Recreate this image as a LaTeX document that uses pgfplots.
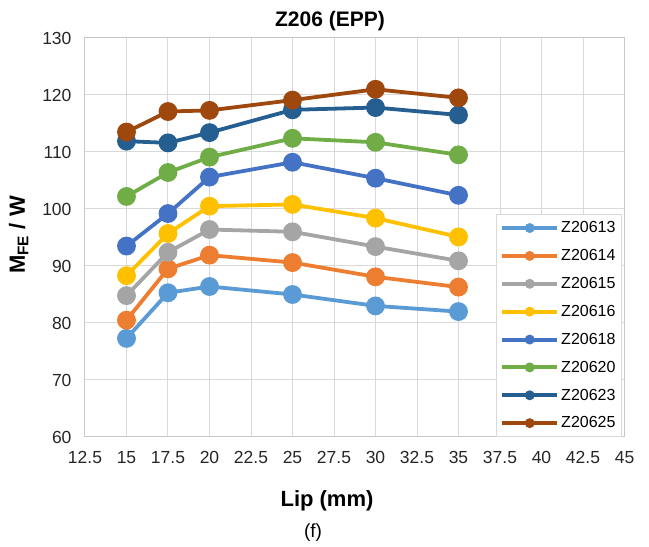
\documentclass[border=0pt]{standalone}
\usepackage{pgfplots}
\pgfplotsset{compat=1.18}
\usepackage{fontspec}
\setmainfont{Liberation Sans}
\definecolor{c1}{HTML}{5B9BD5}
\definecolor{c2}{HTML}{ED7D31}
\definecolor{c3}{HTML}{A5A5A5}
\definecolor{c4}{HTML}{FFC000}
\definecolor{c5}{HTML}{4472C4}
\definecolor{c6}{HTML}{70AD47}
\definecolor{c7}{HTML}{255E91}
\definecolor{c8}{HTML}{9E480E}
\definecolor{gridc}{HTML}{D9D9D9}
\definecolor{axc}{HTML}{C8C8C8}
\begin{document}
\begin{tikzpicture}
\begin{axis}[
  scale only axis, width=539.5pt, height=399pt,
  xmin=12.5, xmax=45, ymin=60, ymax=130,
  xtick={12.5,15,...,45}, ytick={60,70,...,130},
  xticklabels={12.5,15,17.5,20,22.5,25,27.5,30,32.5,35,37.5,40,42.5,45},
  /pgf/number format/assume math mode=true,
  grid=major, major grid style={gridc, line width=1pt},
  axis line style={axc, line width=1pt},
  tick style={draw=none},
  tick label style={font=\fontsize{17.5}{19}\selectfont, text=black!85},
  xticklabel style={yshift=-11pt},
  yticklabel style={xshift=-10pt},
  legend style={at={(rel axis cs:1,0)}, anchor=south east, xshift=-2.5pt, draw=gridc, line width=1pt,
    font=\fontsize{16}{18}\selectfont, row sep=11.2pt, inner xsep=4pt, inner ysep=5pt, fill=white},
  legend cell align=left,
  legend image code/.code={
    \draw[#1, line width=4pt] (0pt,0pt) -- (55pt,0pt);
    \fill[#1, draw=none] (27.5pt,0pt) circle (5pt);
  },
  every axis plot/.append style={line width=3.8pt, mark=*, mark size=7.5pt},
]
\addplot[c1, mark options={fill=c1, draw=c1}] coordinates {(15,77.3)(17.5,85.3)(20,86.4)(25,85.0)(30,83.0)(35,82.0)};
\addlegendentry{Z20613}
\addplot[c2, mark options={fill=c2, draw=c2}] coordinates {(15,80.5)(17.5,89.5)(20,91.9)(25,90.6)(30,88.1)(35,86.3)};
\addlegendentry{Z20614}
\addplot[c3, mark options={fill=c3, draw=c3}] coordinates {(15,84.8)(17.5,92.4)(20,96.4)(25,96.0)(30,93.4)(35,90.9)};
\addlegendentry{Z20615}
\addplot[c4, mark options={fill=c4, draw=c4}] coordinates {(15,88.3)(17.5,95.7)(20,100.5)(25,100.8)(30,98.4)(35,95.1)};
\addlegendentry{Z20616}
\addplot[c5, mark options={fill=c5, draw=c5}] coordinates {(15,93.5)(17.5,99.2)(20,105.6)(25,108.2)(30,105.4)(35,102.4)};
\addlegendentry{Z20618}
\addplot[c6, mark options={fill=c6, draw=c6}] coordinates {(15,102.2)(17.5,106.4)(20,109.1)(25,112.4)(30,111.7)(35,109.5)};
\addlegendentry{Z20620}
\addplot[c7, mark options={fill=c7, draw=c7}] coordinates {(15,111.9)(17.5,111.6)(20,113.4)(25,117.4)(30,117.8)(35,116.5)};
\addlegendentry{Z20623}
\addplot[c8, mark options={fill=c8, draw=c8}] coordinates {(15,113.5)(17.5,117.1)(20,117.3)(25,119.1)(30,121.0)(35,119.5)};
\addlegendentry{Z20625}
\coordinate (BL) at (rel axis cs:0,0);
\coordinate (TR) at (rel axis cs:1,1);
\end{axis}
\pgfresetboundingbox
\path[use as bounding box] ([shift={(-85pt,-110pt)}]BL) rectangle ([shift={(24.5pt,38pt)}]TR);
\node[anchor=base, font=\fontsize{21}{23}\selectfont\bfseries, inner sep=0pt] at ([shift={(245pt,410pt)}]BL) {Z206 (EPP)};
\node[anchor=base, font=\fontsize{22}{24}\selectfont\bfseries, inner sep=0pt] at ([shift={(242pt,-70pt)}]BL) {Lip (mm)};
\node[anchor=base, font=\fontsize{19}{21}\selectfont, inner sep=0pt] at ([shift={(228pt,-101pt)}]BL) {(f)};
\node[anchor=base, rotate=90, font=\fontsize{22}{24}\selectfont\bfseries, inner sep=0pt] at ([shift={(-60pt,202pt)}]BL) {M\textsubscript{FE} / W};
\end{tikzpicture}
\end{document}
